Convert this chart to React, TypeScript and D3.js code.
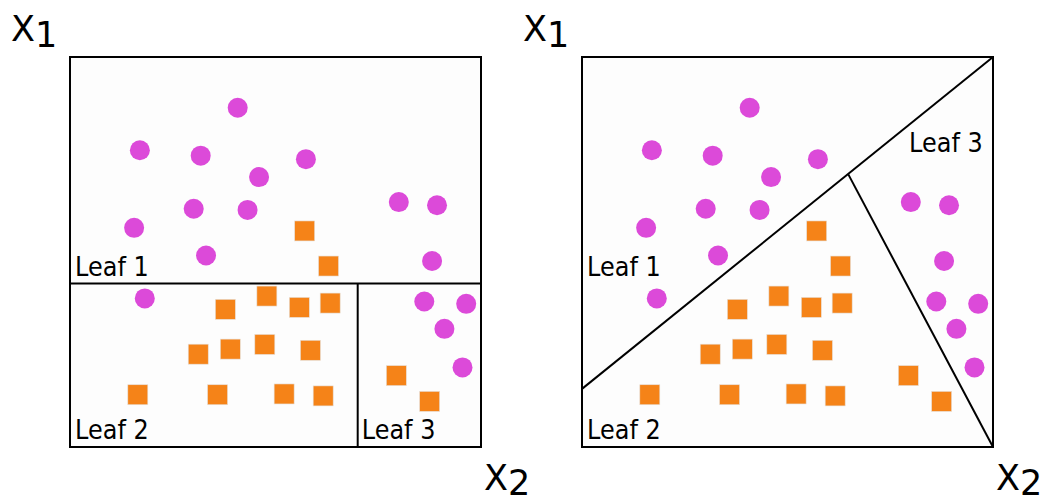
import React from "react";
import * as d3 from "d3";

// points in feature space (x2 horizontal, x1 vertical), 0..100
const circleX2 = [40.8, 17.0, 31.8, 57.4, 46.0, 30.1, 43.2, 80.0, 89.3, 15.6, 33.1, 88.1, 18.2, 86.2, 96.4, 91.1, 95.5];
const circleX1 = [87.0, 76.1, 74.7, 73.8, 69.2, 61.1, 60.8, 62.8, 62.0, 56.2, 49.1, 47.7, 38.1, 37.3, 36.7, 30.3, 20.4];

const squareX2 = [57.1, 62.9, 37.8, 47.9, 55.8, 63.3, 31.2, 39.0, 47.4, 58.5, 16.5, 35.9, 52.1, 61.6, 79.4, 87.5];
const squareX1 = [55.4, 46.4, 35.3, 38.7, 35.8, 36.9, 23.8, 25.1, 26.3, 24.8, 13.4, 13.4, 13.6, 13.1, 18.3, 11.7];

// axis-aligned tree: split on x1 then on x2
const treeSplitX1 = 41.9;
const treeSplitX2 = 70.0;

// oblique tree: segments [x2a, x1a, x2b, x1b]
const obliqueSegments = [
  [0, 14.9, 100, 100],
  [64.8, 69.9, 100, 0],
];

const leafNames = ["Leaf 1", "Leaf 2", "Leaf 3"];

const W = 1043;
const H = 504;
const panelW = 411;
const panelH = 390;
const panelTop = 57;
const panels = [70, 582];

const MAGENTA = "#dc4ad9";
const ORANGE = "#f58318";
const FONT = "'DejaVu Sans', Verdana, sans-serif";

function Panel({ left, kind }: { left: number; kind: "axis" | "oblique" }) {
  const x = d3.scaleLinear().domain([0, 100]).range([left, left + panelW]);
  const y = d3.scaleLinear().domain([0, 100]).range([panelTop + panelH, panelTop]);
  const sq = 20;

  let splits: React.ReactNode;
  let labels: { t: string; x: number; y: number }[];
  if (kind === "axis") {
    splits = (
      <g stroke="#000" strokeWidth={2}>
        <line x1={x(0)} x2={x(100)} y1={y(treeSplitX1)} y2={y(treeSplitX1)} />
        <line x1={x(treeSplitX2)} x2={x(treeSplitX2)} y1={y(treeSplitX1)} y2={y(0)} />
      </g>
    );
    labels = [
      { t: leafNames[0], x: left + 5, y: 276 },
      { t: leafNames[1], x: left + 5, y: 439 },
      { t: leafNames[2], x: x(treeSplitX2) + 4, y: 439 },
    ];
  } else {
    splits = (
      <g stroke="#000" strokeWidth={2}>
        {obliqueSegments.map((s, i) => (
          <line key={i} x1={x(s[0])} y1={y(s[1])} x2={x(s[2])} y2={y(s[3])} />
        ))}
      </g>
    );
    labels = [
      { t: leafNames[0], x: left + 5, y: 276 },
      { t: leafNames[1], x: left + 5, y: 439 },
      { t: leafNames[2], x: left + 327, y: 152 },
    ];
  }

  return (
    <g>
      <rect x={x(0)} y={y(100)} width={panelW} height={panelH} fill="#fdfdfd" stroke="none" />
      {circleX2.map((v, i) => (
        <circle key={"c" + i} cx={x(v)} cy={y(circleX1[i])} r={10} fill={MAGENTA} />
      ))}
      {squareX2.map((v, i) => (
        <rect key={"s" + i} x={x(v) - sq / 2} y={y(squareX1[i]) - sq / 2} width={sq} height={sq}
          fill={ORANGE} stroke="#e6e0da" strokeWidth={0.6} />
      ))}
      {splits}
      <rect x={x(0)} y={y(100)} width={panelW} height={panelH} fill="none" stroke="#000" strokeWidth={2} />
      <g fontFamily={FONT} fontSize={24} fill="#000">
        {labels.map((l) => (
          <text key={l.t} transform={`translate(${l.x},${l.y}) scale(1,1.12)`}>{l.t}</text>
        ))}
      </g>
      <text x={left - 59} y={41} fontFamily={FONT} fontSize={35} fill="#000">
        X<tspan dy={6}>1</tspan>
      </text>
      <text x={left + 414} y={490} fontFamily={FONT} fontSize={35} fill="#000">
        X<tspan dy={5}>2</tspan>
      </text>
    </g>
  );
}

export default function App() {
  return (
    <svg width={W} height={H} style={{ position: "absolute", left: 0, top: 0, background: "#fff" }}>
      <Panel left={panels[0]} kind="axis" />
      <Panel left={panels[1]} kind="oblique" />
    </svg>
  );
}
